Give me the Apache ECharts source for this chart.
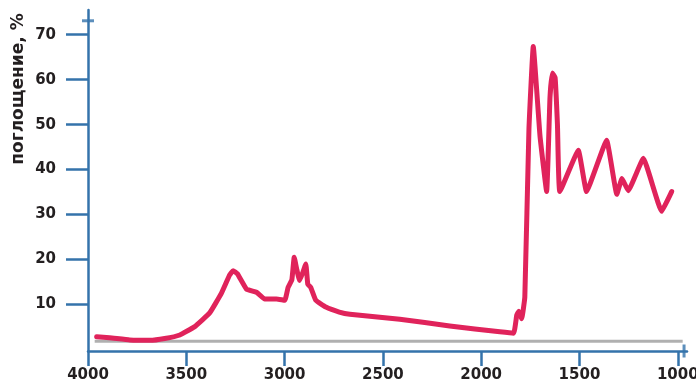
<!DOCTYPE html>
<html>
<head>
<meta charset="utf-8">
<script src="https://cdn.jsdelivr.net/npm/echarts@6/dist/echarts.min.js"></script>
<style>
html,body{margin:0;padding:0;background:#fff;}
#chart{width:696px;height:385px;}
</style>
</head>
<body>
<div id="chart"></div>
<script>
// Wavenumber (cm^-1) and absorption (%)
var wavenumbers = [3956, 3890, 3788, 3686, 3610, 3533, 3459, 3381, 3321, 3280, 3262, 3240, 3194, 3143, 3101, 3041, 2999, 2982, 2963, 2951, 2939, 2924, 2908, 2892, 2882, 2867, 2841, 2790, 2722, 2668, 2414, 2160, 1905, 1835, 1819, 1808, 1794, 1778, 1757, 1735, 1701, 1667, 1650, 1638, 1624, 1612, 1600, 1506, 1464, 1362, 1310, 1284, 1252, 1175, 1082, 1031];
var absorption  = [2.8, 2.6, 2.1, 2.0, 2.4, 3.2, 5.0, 8.1, 12.5, 16.5, 17.5, 16.8, 13.4, 12.7, 11.2, 11.2, 10.9, 13.8, 15.5, 20.5, 18.0, 15.3, 17.0, 19.0, 14.5, 13.8, 10.9, 9.4, 8.3, 7.8, 6.7, 5.2, 3.9, 3.6, 7.6, 8.5, 6.8, 11.6, 49, 67.4, 47.6, 35.1, 56, 61.5, 60.5, 50, 35.1, 44.3, 35.1, 46.5, 34.5, 38, 35.3, 42.5, 30.7, 35.1];
var xTickLabels = [4000, 3500, 3000, 2500, 2000, 1500, 1000];
var yTickLabels = [10, 20, 30, 40, 50, 60, 70];
var baselineX = [3966, 975];
var baselineY = 1.8;
var yAxisTitle = 'поглощение, %';

var axisBlue = '#3473ab';
var textColor = '#231f20';
var font = '"DejaVu Sans", sans-serif';

var lineData = wavenumbers.map(function (w, i) { return [w, absorption[i]]; });
var baseData = baselineX.map(function (w) { return [w, baselineY]; });

var chart = echarts.init(document.getElementById('chart'), null, {renderer: 'canvas'});
chart.setOption({
  animation: false,
  backgroundColor: '#ffffff',
  grid: {left: 88, right: 9, top: 10, bottom: 34, containLabel: false, outerBoundsMode: 'none'},
  xAxis: {
    type: 'value', inverse: true, min: 953, max: 4000,
    axisLine: {show: true, onZero: false, lineStyle: {color: axisBlue, width: 2.5}},
    axisTick: {show: true, length: 15, customValues: xTickLabels, lineStyle: {color: axisBlue, width: 2.5}},
    axisLabel: {customValues: xTickLabels, margin: 17, color: textColor, fontFamily: font, fontWeight: 'bold', fontSize: 15,
      formatter: function (v) { return String(v); }},
    splitLine: {show: false}
  },
  yAxis: {
    type: 'value', min: -0.37, max: 75.5,
    axisLine: {show: true, onZero: false, lineStyle: {color: axisBlue, width: 2.5}},
    axisTick: {show: true, length: 22, customValues: yTickLabels, lineStyle: {color: axisBlue, width: 2.5}},
    axisLabel: {customValues: yTickLabels, margin: 32, color: textColor, fontFamily: font, fontWeight: 'bold', fontSize: 15,
      formatter: function (v) { return String(v); }},
    splitLine: {show: false}
  },
  graphic: [{
    type: 'text', x: 19, y: 89, rotation: Math.PI / 2,
    style: {text: yAxisTitle, fill: textColor, font: 'bold 17px "DejaVu Sans", sans-serif', align: 'center', verticalAlign: 'middle'}
  }],
  series: [
    {type: 'line', data: baseData, symbol: 'none', silent: true,
     lineStyle: {color: '#b0b0b0', width: 3}, z: 1},
    {type: 'line', data: lineData, symbol: 'none', smooth: 0.1, silent: true,
     lineStyle: {color: '#e0235b', width: 5, join: 'round', cap: 'round'}, z: 2},
    {type: 'scatter', data: [[4000, 73.1]], symbol: 'rect', symbolSize: [12, 3],
     itemStyle: {color: axisBlue}, silent: true, z: 3},
    {type: 'scatter', data: [[968, -0.37]], symbol: 'rect', symbolSize: [3, 13],
     itemStyle: {color: axisBlue}, silent: true, z: 3}
  ]
});
</script>
</body>
</html>
